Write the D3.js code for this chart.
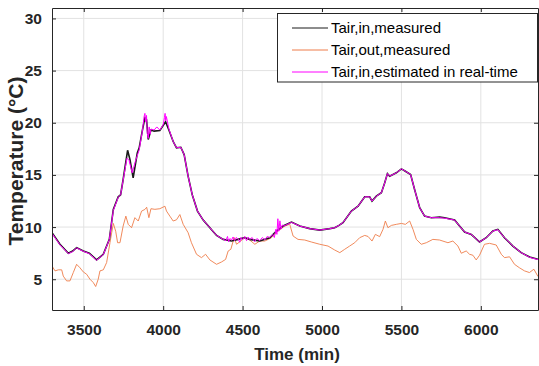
<!DOCTYPE html>
<html>
<head>
<meta charset="utf-8">
<script src="https://cdn.jsdelivr.net/npm/d3@7"></script>
<style>
  body { margin: 0; background: #fff; }
  svg { display: block; }
  text { font-family: "Liberation Sans", Arial, sans-serif; }
</style>
</head>
<body>
<svg id="svg"></svg>
<script>
var xTicks = [3500, 4000, 4500, 5000, 5500, 6000];
var yTicks = [5, 10, 15, 20, 25, 30];

var seriesNames = ["Tair,in,measured", "Tair,out,measured", "Tair,in,estimated in real-time"];
var seriesColors = ["#1a1a1a", "#ee7d4a", "#ff00ff"];

// [time (min), temperature (°C)]
var tairInMeasured = [
    [3300,9.46],[3350,8.35],[3403,7.49],[3430,7.7],[3455,8.03],[3497,7.71],[3535,7.49],[3581,6.85],
    [3623,7.39],[3661,8.82],[3686,11.69],[3717,12.9],[3732,13.1],[3748,14.56],[3776,17.36],[3791,16.47],
    [3811,14.72],[3837,17.1],[3849,17.6],[3870,19.34],[3885,20.46],[3895,20.3],[3906,18.4],[3923,19.3],
    [3943,19.2],[3979,19.25],[4015,20.1],[4036,19.3],[4063,18.2],[4084,17.6],[4111,17.65],[4132,16.95],
    [4157,14.88],[4183,13.1],[4216,11.53],[4252,10.67],[4294,9.94],[4336,9.2],[4378,8.82],[4430,8.66],
    [4472,8.82],[4514,9.0],[4545,8.82],[4608,8.66],[4671,8.98],[4713,9.62],[4755,10.1],[4808,10.48],
    [4860,10.1],[4923,9.85],[4986,9.71],[5049,9.85],[5080,9.94],[5107,10.16],[5132,10.42],[5185,11.53],
    [5227,12.0],[5269,12.9],[5300,12.9],[5315,12.49],[5342,12.96],[5374,13.29],[5395,14.24],[5412,15.13],
    [5426,14.88],[5468,15.2],[5500,15.58],[5525,15.35],[5558,15.04],[5583,13.6],[5615,11.85],[5646,11.05],
    [5688,10.9],[5741,10.95],[5772,10.9],[5835,10.67],[5866,10.1],[5898,9.52],[5940,9.3],[5992,8.57],
    [6034,8.98],[6076,9.62],[6107,9.78],[6149,8.98],[6202,8.18],[6254,7.55],[6307,7.13],[6360,6.91]
];

var tairOutMeasured = [
    [3300,6.27],[3319,5.8],[3340,5.9],[3361,5.9],[3371,5.3],[3392,4.84],[3413,4.84],[3434,5.64],
    [3455,6.43],[3476,6.1],[3497,5.7],[3518,5.48],[3539,5.0],[3560,4.68],[3575,4.3],[3591,5.0],
    [3602,5.8],[3623,5.9],[3644,6.6],[3665,8.5],[3686,10.35],[3701,9.6],[3713,8.5],[3728,8.5],
    [3748,10.1],[3765,11.05],[3780,10.26],[3801,9.94],[3822,10.9],[3843,10.58],[3864,11.53],[3885,11.69],
    [3896,11.9],[3910,10.9],[3923,11.76],[3948,11.7],[3979,11.76],[4011,12.0],[4021,11.53],[4042,11.05],
    [4063,10.58],[4084,10.7],[4105,11.2],[4126,10.26],[4157,9.46],[4178,8.5],[4210,7.39],[4241,7.07],
    [4267,7.39],[4294,6.85],[4336,6.43],[4367,6.65],[4393,6.9],[4409,7.7],[4426,7.87],[4447,9.0],
    [4462,8.35],[4483,8.6],[4514,8.98],[4545,8.76],[4577,8.35],[4608,8.66],[4640,8.66],[4682,8.98],
    [4723,9.62],[4766,10.1],[4797,10.26],[4818,9.14],[4849,8.82],[4891,8.76],[4933,8.57],[4986,8.35],
    [5038,8.18],[5080,7.8],[5112,7.55],[5143,7.87],[5174,8.18],[5206,8.5],[5237,8.98],[5269,9.2],
    [5290,9.1],[5315,8.66],[5336,9.3],[5363,9.08],[5384,9.78],[5399,10.58],[5415,9.94],[5437,10.16],
    [5468,10.26],[5500,10.35],[5525,10.26],[5552,10.58],[5573,9.78],[5594,8.82],[5625,8.35],[5657,8.5],
    [5698,8.82],[5740,8.76],[5793,8.5],[5824,8.66],[5856,8.18],[5877,7.49],[5908,7.71],[5929,7.39],
    [5950,7.3],[5971,6.85],[5992,7.3],[6023,8.35],[6055,8.44],[6097,8.28],[6129,7.39],[6149,7.07],
    [6181,7.15],[6212,6.43],[6243,6.1],[6275,5.8],[6306,5.64],[6334,5.96],[6360,5.26]
];

var tairInEstimated = [
    [3300,9.4],[3350,8.3],[3403,7.45],[3430,7.65],[3455,8.0],[3497,7.68],[3535,7.45],[3581,6.82],
    [3623,7.36],[3661,8.8],[3686,11.6],[3717,12.85],[3732,13.1],[3748,14.5],[3772,16.6],[3785,16.4],
    [3805,15.2],[3825,16.3],[3849,17.4],
    [3870,19.3],[3880,20.6],[3885,20.9],[3890,20.1],[3895,20.7],[3900,19.0],[3906,18.5],[3912,19.6],
    [3918,18.9],[3923,19.4],[3943,19.3],[3960,19.6],[3979,19.3],[4000,19.8],[4008,20.5],[4012,20.9],
    [4016,20.2],[4020,20.6],[4036,19.4],[4063,18.2],[4084,17.6],[4111,17.65],[4132,16.95],[4157,14.88],
    [4183,13.1],[4216,11.53],[4252,10.67],[4294,9.94],[4336,9.2],[4378,8.82],[4395,8.7],[4405,9.1],
    [4412,8.6],[4420,8.9],[4430,8.75],[4440,9.05],[4450,8.7],[4460,9.0],[4472,8.85],[4482,8.55],
    [4490,9.0],[4500,8.8],[4514,9.1],[4525,8.7],[4535,9.05],[4545,8.8],[4560,9.0],[4575,8.6],
    [4590,8.9],[4608,8.7],[4625,9.0],[4640,8.75],[4655,9.1],[4671,9.0],[4690,9.3],[4700,9.0],
    [4710,9.8],[4716,9.3],[4722,10.8],[4728,9.6],[4735,10.6],[4742,9.8],[4750,10.2],[4760,10.1],
    [4808,10.45],[4860,10.1],[4923,9.85],[4986,9.71],[5049,9.85],[5080,9.94],[5107,10.16],[5132,10.42],
    [5185,11.53],[5227,12.0],[5269,12.9],[5300,12.9],[5315,12.49],[5342,12.96],[5374,13.29],[5395,14.24],
    [5412,15.13],[5426,14.88],[5468,15.2],[5500,15.58],[5525,15.35],[5558,15.04],[5583,13.6],[5615,11.85],
    [5646,11.05],[5688,10.9],[5741,10.9],[5772,10.85],[5835,10.67],[5866,10.1],[5898,9.52],[5940,9.3],
    [5992,8.57],[6034,8.98],[6076,9.62],[6107,9.75],[6149,8.98],[6202,8.18],[6254,7.55],[6307,7.1],[6360,6.88]
];

var width = 539, height = 366;
var plotLeft = 52, plotRight = 538, plotTop = 8, plotBottom = 310;
var axisColor = "#262626";

var svg = d3.select("#svg").attr("width", width).attr("height", height);

var x = d3.scaleLinear().domain([3300, 6360]).range([plotLeft, plotRight]);
var y = d3.scaleLinear().domain([2.05, 31]).range([plotBottom, plotTop]);

svg.append("defs").append("clipPath").attr("id", "clip")
    .append("rect")
    .attr("x", plotLeft).attr("y", plotTop)
    .attr("width", plotRight - plotLeft).attr("height", plotBottom - plotTop);

// grid
svg.append("g").selectAll("line").data(xTicks).enter().append("line")
    .attr("x1", function(d) { return x(d); }).attr("x2", function(d) { return x(d); })
    .attr("y1", plotTop).attr("y2", plotBottom)
    .attr("stroke", "#e2e2e2").attr("stroke-width", 1);
svg.append("g").selectAll("line").data(yTicks).enter().append("line")
    .attr("x1", plotLeft).attr("x2", plotRight)
    .attr("y1", function(d) { return y(d); }).attr("y2", function(d) { return y(d); })
    .attr("stroke", "#e2e2e2").attr("stroke-width", 1);

// curves
var line = d3.line()
    .x(function(d) { return x(d[0]); })
    .y(function(d) { return y(d[1]); });

var curves = svg.append("g").attr("clip-path", "url(#clip)");
curves.append("path").datum(tairOutMeasured)
    .attr("d", line).attr("fill", "none")
    .attr("stroke", seriesColors[1]).attr("stroke-width", 0.9);
curves.append("path").datum(tairInMeasured)
    .attr("d", line).attr("fill", "none")
    .attr("stroke", seriesColors[0]).attr("stroke-width", 1.6);
curves.append("path").datum(tairInEstimated)
    .attr("d", line).attr("fill", "none")
    .attr("stroke", seriesColors[2]).attr("stroke-width", 1);

// axes (MATLAB style box with inward ticks)
var xAxis = d3.axisBottom(x).tickValues(xTicks).tickFormat(d3.format("d"))
    .tickSizeInner(-4).tickSizeOuter(0).tickPadding(14);
var yAxis = d3.axisLeft(y).tickValues(yTicks).tickFormat(d3.format("d"))
    .tickSizeInner(-4).tickSizeOuter(0).tickPadding(10);

svg.append("g").attr("transform", "translate(0," + plotBottom + ")").call(xAxis);
svg.append("g").attr("transform", "translate(" + plotLeft + ",0)").call(yAxis);
svg.append("g").attr("transform", "translate(0," + plotTop + ")")
    .call(d3.axisTop(x).tickValues(xTicks).tickSizeInner(-4).tickSizeOuter(0).tickFormat(""));
svg.append("g").attr("transform", "translate(" + plotRight + ",0)")
    .call(d3.axisRight(y).tickValues(yTicks).tickSizeInner(-4).tickSizeOuter(0).tickFormat(""));

svg.selectAll(".domain").attr("stroke", axisColor);
svg.selectAll(".tick line").attr("stroke", axisColor);
svg.selectAll(".tick text")
    .attr("fill", axisColor)
    .style("font-family", "'Liberation Sans', Arial, sans-serif")
    .style("font-size", "15.5px")
    .style("font-weight", "bold");

// titles
svg.append("text")
    .attr("x", 297).attr("y", 360)
    .attr("text-anchor", "middle")
    .attr("fill", axisColor)
    .style("font-size", "17px").style("font-weight", "bold")
    .text("Time (min)");

svg.append("text")
    .attr("transform", "translate(23,161) rotate(-90)")
    .attr("text-anchor", "middle")
    .attr("fill", axisColor)
    .style("font-size", "21px").style("font-weight", "bold")
    .text("Temperature (°C)");

// legend
var legend = svg.append("g");
legend.append("rect")
    .attr("x", 277.5).attr("y", 13.5).attr("width", 260).attr("height", 68.5)
    .attr("fill", "#fff").attr("stroke", axisColor).attr("stroke-width", 1);

var rows = legend.selectAll("g.row").data(seriesNames).enter().append("g")
    .attr("class", "row")
    .attr("transform", function(d, i) { return "translate(0," + (28 + i * 22) + ")"; });
rows.append("line")
    .attr("x1", 292).attr("x2", 328).attr("y1", 0).attr("y2", 0)
    .attr("stroke", function(d, i) { return seriesColors[i]; })
    .attr("stroke-width", 1);
rows.append("text")
    .attr("x", 331).attr("y", 0).attr("dy", "0.35em")
    .attr("fill", "#000")
    .style("font-size", "15px")
    .text(function(d) { return d; });
</script>
</body>
</html>
